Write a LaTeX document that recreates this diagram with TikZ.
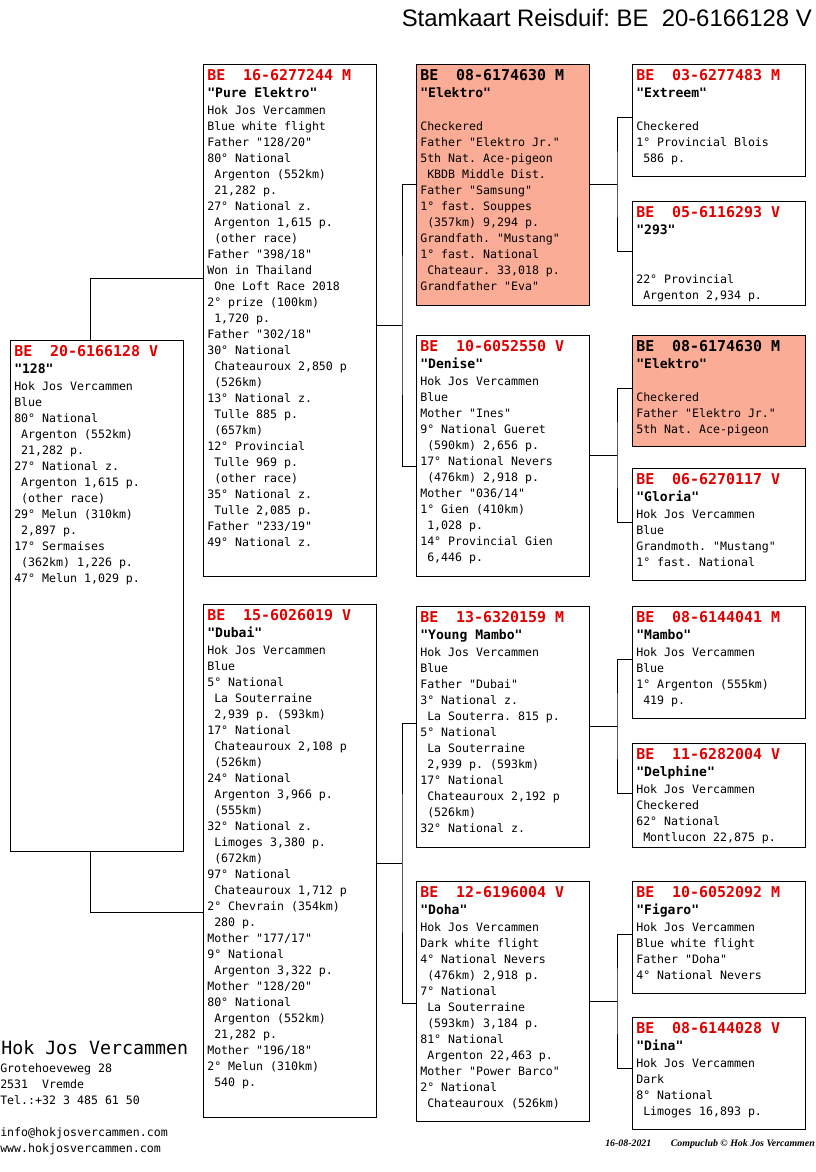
\documentclass[tikz,border=0pt]{standalone}
\usepackage{fontspec}
\setmainfont{Liberation Sans}
\newfontfamily\fixfont{DejaVu Sans Mono}
\newfontfamily\footfont{Liberation Serif}
\frenchspacing

\definecolor{ringred}{RGB}{225,0,0}
\definecolor{elektrofill}{RGB}{251,172,150}

\tikzset{
  box/.style={draw, line width=0.75pt, anchor=north west, inner sep=0pt, outer sep=0pt, minimum width=129.75pt},
  gewoon box/.style={fill=white},
  elektro box/.style={fill=elektrofill},
  ring/.style={anchor=base west, inner sep=0pt, font=\fixfont\bfseries\fontsize{11.2pt}{13pt}\selectfont},
  gewoon ring/.style={text=ringred},
  elektro ring/.style={text=black},
  petname/.style={anchor=base west, inner sep=0pt, font=\fixfont\bfseries\fontsize{9.8pt}{12pt}\selectfont},
  body/.style={anchor=north west, inner sep=0pt, align=left, font=\fixfont\fontsize{8.7pt}{12pt}\selectfont},
  link/.style={line width=0.6pt},
  voet/.style={inner sep=0pt, font=\footfont\bfseries\itshape\fontsize{7.4pt}{8pt}\selectfont},
}

% one pigeon card: name, x, top y, height, kind, ring, pet name, lines
\newcommand{\duif}[8]{%
  \node[box, #5 box, minimum height=#4*0.75pt] (#1) at (#2,#3) {};
  \node[ring, #5 ring] (#1-r) at (#2+4,#3+16.5) {#6};
  \node[petname] (#1-n) at (#2+4,#3+33) {#7};
  \node[body] (#1-b) at (#2+4,#3+39) {\strut#8};
}

% parent to its two parents: parent, upper, lower, junction x, y, half spread
\newcommand{\vork}[6]{%
  \coordinate (#1-j) at (#4,#5);
  \draw[link] (#1.east |- #1-j) -- (#1-j);
  \draw[link] (#2.west |- 0,#5-#6) -| (#1-j) |- (#3.west |- 0,#5+#6);
}

\begin{document}
\begin{tikzpicture}[x=0.75pt, y=-0.75pt]
  \useasboundingbox (0,0) rectangle (816,1172);
  \fill[white] (0,0) rectangle (816,1172);

  \node[anchor=east, inner sep=0pt, font=\fontsize{17.9pt}{20pt}\selectfont] (titel) at (812,18) {Stamkaart Reisduif: BE\ \ 20-6166128 V};

  % subject
  \duif{g0}{10}{340}{511}{gewoon}{BE~~20-6166128 V}{"128"}{Hok Jos Vercammen\\Blue\\80° National\\~Argenton (552km)\\~21,282 p.\\27° National z.\\~Argenton 1,615 p.\\~(other race)\\29° Melun (310km)\\~2,897 p.\\17° Sermaises\\~(362km) 1,226 p.\\47° Melun 1,029 p.}

  % parents
  \duif{p1}{203}{64}{512}{gewoon}{BE~~16-6277244 M}{"Pure Elektro"}{Hok Jos Vercammen\\Blue white flight\\Father "128/20"\\80° National\\~Argenton (552km)\\~21,282 p.\\27° National z.\\~Argenton 1,615 p.\\~(other race)\\Father "398/18"\\Won in Thailand\\~One Loft Race 2018\\2° prize (100km)\\~1,720 p.\\Father "302/18"\\30° National\\~Chateauroux 2,850 p\\~(526km)\\13° National z.\\~Tulle 885 p.\\~(657km)\\12° Provincial\\~Tulle 969 p.\\~(other race)\\35° National z.\\~Tulle 2,085 p.\\Father "233/19"\\49° National z.}
  \duif{p2}{203}{604}{513}{gewoon}{BE~~15-6026019 V}{"Dubai"}{Hok Jos Vercammen\\Blue\\5° National\\~La Souterraine\\~2,939 p. (593km)\\17° National\\~Chateauroux 2,108 p\\~(526km)\\24° National\\~Argenton 3,966 p.\\~(555km)\\32° National z.\\~Limoges 3,380 p.\\~(672km)\\97° National\\~Chateauroux 1,712 p\\2° Chevrain (354km)\\~280 p.\\Mother "177/17"\\9° National\\~Argenton 3,322 p.\\Mother "128/20"\\80° National\\~Argenton (552km)\\~21,282 p.\\Mother "196/18"\\2° Melun (310km)\\~540 p.}

  % grandparents
  \duif{gp1}{416}{64}{241}{elektro}{BE~~08-6174630 M}{"Elektro"}{~\\Checkered\\Father "Elektro Jr."\\5th Nat. Ace-pigeon\\~KBDB Middle Dist.\\Father "Samsung"\\1° fast. Souppes\\~(357km) 9,294 p.\\Grandfath. "Mustang"\\1° fast. National\\~Chateaur. 33,018 p.\\Grandfather "Eva"}
  \duif{gp2}{416}{335}{241}{gewoon}{BE~~10-6052550 V}{"Denise"}{Hok Jos Vercammen\\Blue\\Mother "Ines"\\9° National Gueret\\~(590km) 2,656 p.\\17° National Nevers\\~(476km) 2,918 p.\\Mother "036/14"\\1° Gien (410km)\\~1,028 p.\\14° Provincial Gien\\~6,446 p.}
  \duif{gp3}{416}{606}{241}{gewoon}{BE~~13-6320159 M}{"Young Mambo"}{Hok Jos Vercammen\\Blue\\Father "Dubai"\\3° National z.\\~La Souterra. 815 p.\\5° National\\~La Souterraine\\~2,939 p. (593km)\\17° National\\~Chateauroux 2,192 p\\~(526km)\\32° National z.}
  \duif{gp4}{416}{881}{240}{gewoon}{BE~~12-6196004 V}{"Doha"}{Hok Jos Vercammen\\Dark white flight\\4° National Nevers\\~(476km) 2,918 p.\\7° National\\~La Souterraine\\~(593km) 3,184 p.\\81° National\\~Argenton 22,463 p.\\Mother "Power Barco"\\2° National\\~Chateauroux (526km)}

  % great-grandparents
  \duif{ggp1}{632}{64}{112}{gewoon}{BE~~03-6277483 M}{"Extreem"}{~\\Checkered\\1° Provincial Blois\\~586 p.}
  \duif{ggp2}{632}{201}{104}{gewoon}{BE~~05-6116293 V}{"293"}{~\\~\\22° Provincial\\~Argenton 2,934 p.}
  \duif{ggp3}{632}{335}{111}{elektro}{BE~~08-6174630 M}{"Elektro"}{~\\Checkered\\Father "Elektro Jr."\\5th Nat. Ace-pigeon}
  \duif{ggp4}{632}{468}{112}{gewoon}{BE~~06-6270117 V}{"Gloria"}{Hok Jos Vercammen\\Blue\\Grandmoth. "Mustang"\\1° fast. National}
  \duif{ggp5}{632}{606}{112}{gewoon}{BE~~08-6144041 M}{"Mambo"}{Hok Jos Vercammen\\Blue\\1° Argenton (555km)\\~419 p.}
  \duif{ggp6}{632}{743}{104}{gewoon}{BE~~11-6282004 V}{"Delphine"}{Hok Jos Vercammen\\Checkered\\62° National\\~Montlucon 22,875 p.}
  \duif{ggp7}{632}{881}{112}{gewoon}{BE~~10-6052092 M}{"Figaro"}{Hok Jos Vercammen\\Blue white flight\\Father "Doha"\\4° National Nevers}
  \duif{ggp8}{632}{1017}{112}{gewoon}{BE~~08-6144028 V}{"Dina"}{Hok Jos Vercammen\\Dark\\8° National\\~Limoges 16,893 p.}

  % connectors
  \coordinate (g0-t) at (90,278);
  \coordinate (g0-s) at (90,912);
  \draw[link] (g0.north -| g0-t) -- (g0-t) -- (g0-t -| p1.west);
  \draw[link] (g0.south -| g0-s) -- (g0-s) -- (g0-s -| p2.west);
  \vork{p1}{gp1}{gp2}{402}{325}{141}
  \vork{p2}{gp3}{gp4}{402}{863}{140}
  \vork{gp1}{ggp1}{ggp2}{617}{184}{67}
  \vork{gp2}{ggp3}{ggp4}{617}{455}{67}
  \vork{gp3}{ggp5}{ggp6}{617}{726}{67}
  \vork{gp4}{ggp7}{ggp8}{617}{1001}{67}

  % loft address
  \node[anchor=base west, inner sep=0pt, font=\fixfont\fontsize{13.7pt}{16pt}\selectfont] (hok) at (1,1054) {Hok Jos Vercammen};
  \node[body] (adres) at (0,1061) {\strut Grotehoeveweg 28\\2531~~Vremde\\Tel.:+32 3 485 61 50\\~\\info@hokjosvercammen.com\\www.hokjosvercammen.com};

  % footer
  \node[voet, anchor=base west] (datum) at (605,1146) {16-08-2021};
  \node[voet, anchor=base east] (club) at (815,1146) {Compuclub © Hok Jos Vercammen};
\end{tikzpicture}
\end{document}
